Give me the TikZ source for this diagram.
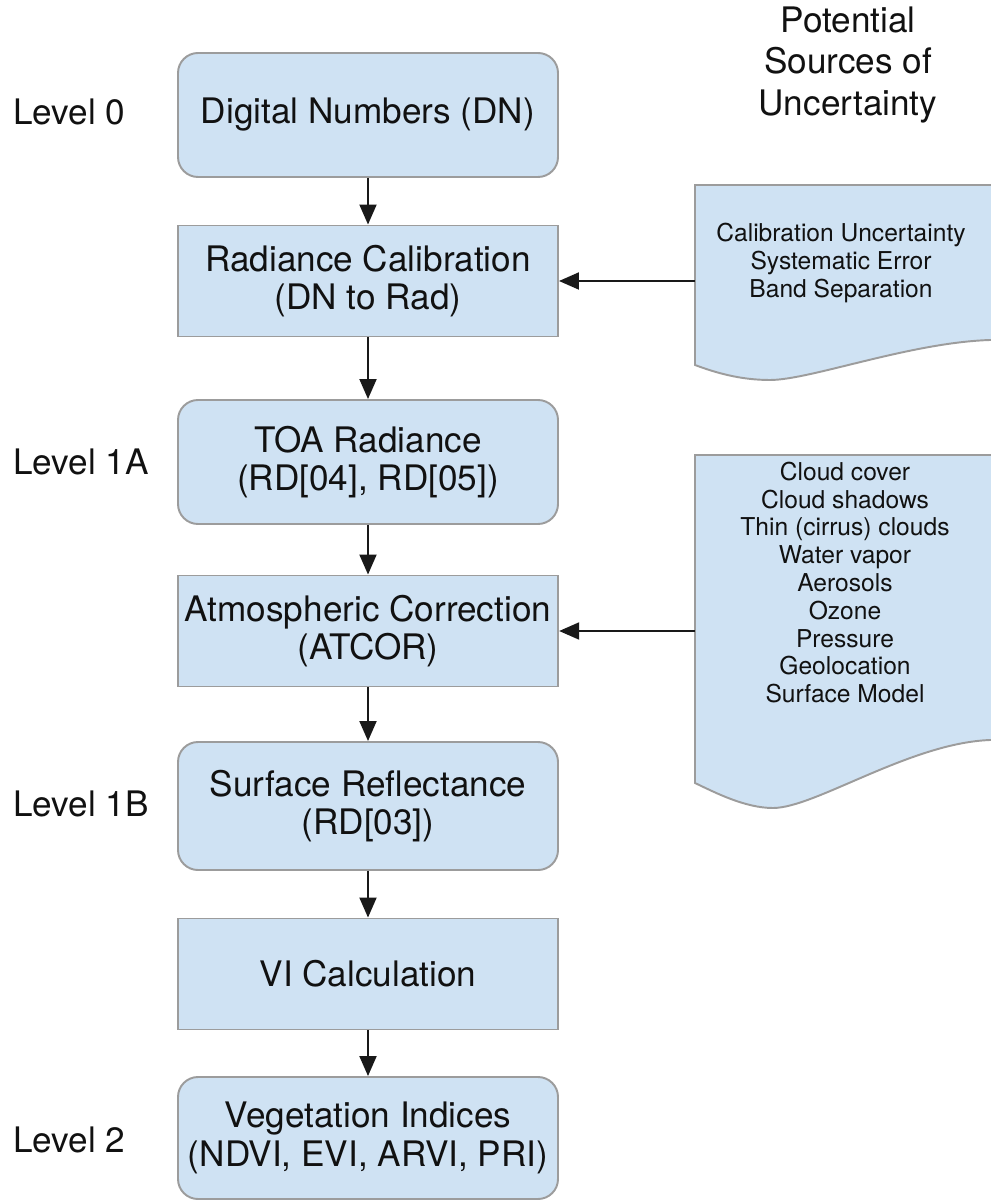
\documentclass[tikz,border=0pt]{standalone}
\usepackage{fontspec}
\setmainfont{TeX Gyre Heros}
\usetikzlibrary{arrows.meta, positioning, calc}

\definecolor{boxfill}{HTML}{CFE2F3}
\definecolor{boxline}{HTML}{9C9C9C}
\definecolor{inktext}{HTML}{111111}

\begin{document}
\begin{tikzpicture}[
		every node/.style={font=\fontsize{20}{22}\selectfont, text=inktext},
		arrow/.style={-{Triangle[length=4mm, width=3.4mm]}, line width=1.1pt, black!90},
		stage/.style={draw=boxline, line width=1.1pt, fill=boxfill, minimum width=7.6cm, align=center, inner sep=4pt},
		product/.style={stage, rounded corners=0.4cm, minimum height=2.48cm},
		process/.style={stage, minimum height=2.22cm},
		level/.style={anchor=west, inner sep=0pt},
		source/.style={font=\fontsize{14}{15.8}\selectfont, align=center},
		sourcedoc/.style={draw=boxline, line width=1.1pt, fill=boxfill}
		]
		
		% === CANVAS ===
		\useasboundingbox[fill=white] (0,0) rectangle (19.8,-24);
		
		% === PROCESSING CHAIN ===
		\node[product] (dn) at (7.36,-2.30) {Digital Numbers (DN)};
		\node[process] (radcal) at (7.36,-5.62) {Radiance Calibration\\(DN to Rad)};
		\node[product] (toa) at (7.36,-9.24) {TOA Radiance\\(RD[04], RD[05])};
		\node[process] (atcor) at (7.36,-12.62) {Atmospheric Correction\\(ATCOR)};
		\node[product, minimum height=2.56cm] (surf) at (7.36,-16.12) {Surface Reflectance\\(RD[03])};
		\node[process] (vicalc) at (7.36,-19.48) {VI Calculation};
		\node[product, minimum height=2.44cm] (vegidx) at (7.36,-22.76) {Vegetation Indices\\(NDVI, EVI, ARVI, PRI)};
		
		\foreach \a/\b in {dn/radcal, radcal/toa, toa/atcor, atcor/surf, surf/vicalc, vicalc/vegidx} {
			\draw[arrow] (\a) -- (\b);
		}
		
		% === PROCESSING LEVELS ===
		\node[level] (lvl0) at (0.26,-2.24) {Level 0};
		\node[level] (lvl1a) at (0.26,-9.24) {Level 1A};
		\node[level] (lvl1b) at (0.26,-16.08) {Level 1B};
		\node[level] (lvl2) at (0.26,-22.80) {Level 2};
		
		% === SOURCES OF UNCERTAINTY ===
		\node[align=center, font=\fontsize{20}{23.5}\selectfont] (srctitle) at (16.96,-1.30) {Potential\\Sources of\\Uncertainty};
		
		% document shapes (cut by the right edge)
		\path[sourcedoc] (13.90,-3.70) -- (20.2,-3.70) -- (20.2,-6.79) -- (19.8,-6.80)
		.. controls (18.2,-6.85) and (16.2,-7.60) .. (15.40,-7.60)
		.. controls (14.8,-7.60) and (14.3,-7.45) .. (13.90,-7.30) -- cycle;
		\path[sourcedoc] (13.90,-9.10) -- (20.2,-9.10) -- (20.2,-14.79) -- (19.8,-14.80)
		.. controls (18.2,-14.86) and (16.3,-16.16) .. (15.46,-16.16)
		.. controls (14.9,-16.16) and (14.3,-15.85) .. (13.90,-15.66) -- cycle;
		
		\node[source] (calsrc) at (16.82,-5.26) {Calibration Uncertainty\\Systematic Error\\Band Separation};
		\node[source] (atmsrc) at (16.90,-11.65) {Cloud cover\\Cloud shadows\\Thin (cirrus) clouds\\Water vapor\\Aerosols\\Ozone\\Pressure\\Geolocation\\Surface Model};
		
		\coordinate (calport) at (13.90,-5.62);
		\coordinate (atmport) at (13.90,-12.62);
		\draw[arrow] (calport) -- (radcal);
		\draw[arrow] (atmport) -- (atcor);
		
	\end{tikzpicture}
\end{document}
